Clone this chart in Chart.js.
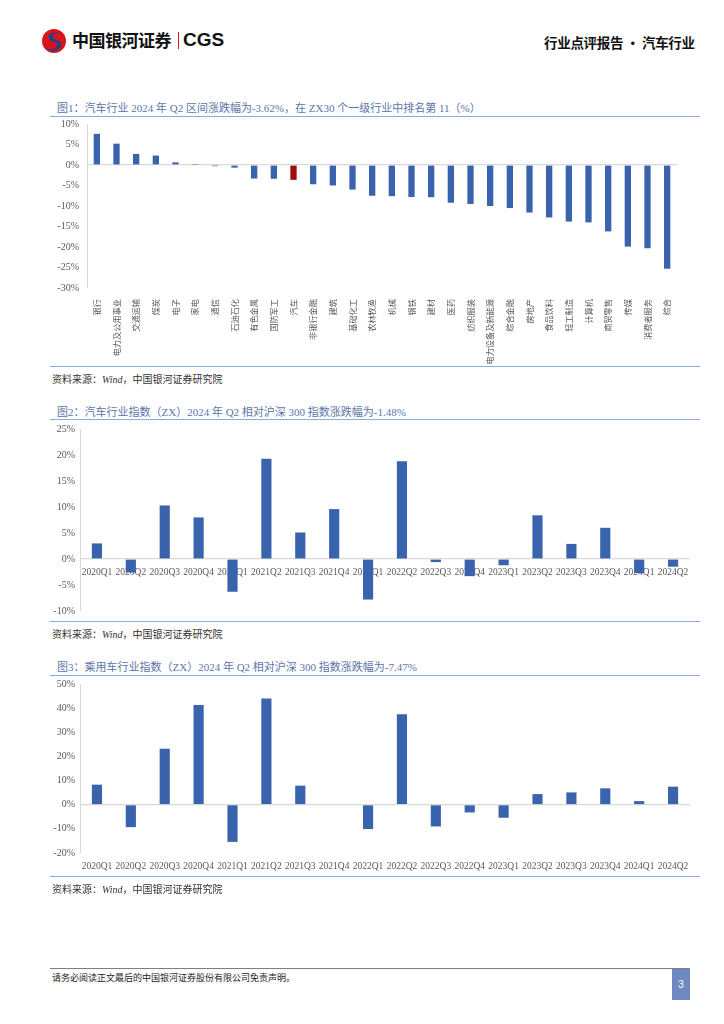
<!DOCTYPE html>
<html><head><meta charset="utf-8">
<script src="https://cdn.jsdelivr.net/npm/chart.js@4"></script>
<style>
html,body{margin:0;padding:0;background:#fff;}
body{width:724px;height:1024px;position:relative;overflow:hidden;font-family:"Liberation Serif","Noto Sans CJK SC",serif;}
.abs{position:absolute;}
.title{left:57px;font-size:11px;color:#5b76a8;white-space:nowrap;}
.tline{left:50px;width:650px;height:0;border-top:1.5px solid #8eaadb;}
.src{left:52px;font-size:10px;color:#333;white-space:nowrap;}
canvas{position:absolute;}
</style></head>
<body>
<!-- header -->
<svg class="abs" style="left:41px;top:28px" width="26" height="26" viewBox="0 0 26 26">
  <circle cx="13" cy="13" r="12" fill="#d7141a"/>
  <path d="M19 5 C11 3,5 8,9 12 C12 15,18 13,16 18 C14 22,8 22,5 20 C9 25,19 23,20 17 C21 12,14 13,12 10 C10 7,15 5,19 5 Z" fill="#1a3f95"/>
</svg>
<div class="abs" style="left:72px;top:30px;font-family:'Noto Sans CJK SC';font-weight:700;font-size:17px;color:#111;letter-spacing:-0.5px;line-height:20px;">中国银河证券</div>
<div class="abs" style="left:178px;top:32px;width:1px;height:17px;background:#d7141a;"></div>
<div class="abs" style="left:183px;top:29px;font-family:'Liberation Sans';font-weight:700;font-size:19px;color:#111;line-height:22px;">CGS</div>
<div class="abs" style="left:544px;top:32px;font-family:'Noto Sans CJK SC';font-weight:700;font-size:13.5px;color:#111;white-space:nowrap;letter-spacing:-0.3px;">行业点评报告 · 汽车行业</div>

<!-- chart 1 -->
<div class="abs title" style="top:99px;">图1：汽车行业 2024 年 Q2 区间涨跌幅为-3.62%，在 ZX30 个一级行业中排名第 11（%）</div>
<div class="abs tline" style="top:116px;"></div>
<canvas id="c1" width="650" height="249" style="left:50px;top:116px;"></canvas>
<div class="abs tline" style="top:366px;"></div>
<div class="abs src" style="top:371px;">资料来源：<i>Wind</i>，中国银河证券研究院</div>

<!-- chart 2 -->
<div class="abs title" style="top:403px;">图2：汽车行业指数（ZX）2024 年 Q2 相对沪深 300 指数涨跌幅为-1.48%</div>
<div class="abs tline" style="top:419px;"></div>
<canvas id="c2" width="650" height="200" style="left:50px;top:421px;"></canvas>
<div class="abs tline" style="top:621px;"></div>
<div class="abs src" style="top:626px;">资料来源：<i>Wind</i>，中国银河证券研究院</div>

<!-- chart 3 -->
<div class="abs title" style="top:658px;">图3：乘用车行业指数（ZX）2024 年 Q2 相对沪深 300 指数涨跌幅为-7.47%</div>
<div class="abs tline" style="top:675px;"></div>
<canvas id="c3" width="650" height="200" style="left:50px;top:677px;"></canvas>
<div class="abs tline" style="top:876px;"></div>
<div class="abs src" style="top:881px;">资料来源：<i>Wind</i>，中国银河证券研究院</div>

<!-- footer -->
<div class="abs" style="left:50px;top:968px;width:640px;height:0;border-top:1.5px solid #7f7f7f;"></div>
<div class="abs" style="left:52px;top:971px;font-size:9px;color:#222;font-family:'Noto Sans CJK SC';white-space:nowrap;">请务必阅读正文最后的中国银河证券股份有限公司免责声明。</div>
<div class="abs" style="left:672px;top:969px;width:18px;height:31px;background:#6f89c0;color:#fff;font-size:10px;text-align:center;line-height:31px;font-family:'Liberation Sans';">3</div>

<script>
// ---- data ----
const industries = ["银行","电力及公用事业","交通运输","煤炭","电子","家电","通信","石油石化","有色金属","国防军工","汽车","非银行金融","建筑","基础化工","农林牧渔","机械","钢铁","建材","医药","纺织服装","电力设备及新能源","综合金融","房地产","食品饮料","轻工制造","计算机","商贸零售","传媒","消费者服务","综合"];
const industryReturns = [7.6,5.2,2.7,2.3,0.65,0.05,-0.3,-0.65,-3.3,-3.35,-3.62,-4.7,-5.0,-6.0,-7.5,-7.6,-7.8,-7.85,-9.2,-9.5,-10.0,-10.5,-11.6,-12.8,-13.8,-14.0,-16.2,-19.9,-20.3,-25.3];
const highlightIndustry = "汽车";
const quarters = ["2020Q1","2020Q2","2020Q3","2020Q4","2021Q1","2021Q2","2021Q3","2021Q4","2022Q1","2022Q2","2022Q3","2022Q4","2023Q1","2023Q2","2023Q3","2023Q4","2024Q1","2024Q2"];
const autoRelative = [3.0,-2.6,10.3,8.0,-6.3,19.3,5.1,9.6,-7.8,18.8,-0.6,-3.3,-1.2,8.4,2.9,6.0,-2.7,-1.48];
const passengerRelative = [8.3,-9.3,23.2,41.3,-15.4,44.0,7.9,0,-10.1,37.5,-9.0,-3.2,-5.4,4.4,5.1,6.8,1.5,7.47];
const ticks1 = {min:-30,max:10,step:5};
const ticks2 = {min:-10,max:25,step:5};
const ticks3 = {min:-20,max:50,step:10};

// ---- styles ----
const BLUE = "#3a63ae", RED = "#a10e0e", GRID = "#d9d9d9", TXT = "#595959";
const numFont = {family:"'Liberation Serif','Noto Sans CJK SC',serif", size:10};
const pct = v => v + "%";
const noPad = s => { s.paddingTop = 0; s.paddingBottom = 0; s.paddingLeft = 0; s.paddingRight = 0; };

function yScale(t, width, pad){
  return {
    min:t.min, max:t.max,
    ticks:{stepSize:t.step, callback:pct, color:TXT, font:numFont, padding:pad},
    grid:{color:c => c.tick && c.tick.value === 0 ? GRID : "transparent", drawTicks:false, lineWidth:1.2},
    border:{display:true, color:GRID},
    afterFit: s => { s.width = width; noPad(s); }
  };
}
const common = {
  responsive:false, animation:false,
  plugins:{legend:{display:false}, tooltip:{enabled:false}}
};

// chart 1
new Chart(document.getElementById("c1"), {
  type:"bar",
  data:{labels:industries, datasets:[{
    data:industryReturns,
    backgroundColor:industries.map(n => n === highlightIndustry ? RED : BLUE),
    barPercentage:0.32, categoryPercentage:1
  }]},
  options:Object.assign({}, common, {
    layout:{padding:{top:8, right:23, left:0, bottom:0}},
    scales:{
      x:{
        grid:{display:false}, border:{display:false},
        ticks:{minRotation:90, maxRotation:90, autoSkip:false, color:TXT, padding:3,
               font:{family:"'Noto Sans CJK SC'", size:8.2}},
        afterFit: s => { s.height = 77; noPad(s); }
      },
      y:yScale(ticks1, 37, 8)
    }
  })
});

// chart 2
new Chart(document.getElementById("c2"), {
  type:"bar",
  data:{labels:quarters, datasets:[{data:autoRelative, backgroundColor:BLUE, barPercentage:0.3, categoryPercentage:1}]},
  options:Object.assign({}, common, {
    layout:{padding:{top:8, right:10, left:0, bottom:10}},
    scales:{
      x:{
        position:{y:0},
        grid:{display:false}, border:{display:false},
        ticks:{maxRotation:0, autoSkip:false, color:TXT, padding:0, font:{family:"'Liberation Serif',serif", size:9.5}},
        afterFit: s => { noPad(s); }
      },
      y:yScale(ticks2, 30, 5)
    }
  })
});

// chart 3
new Chart(document.getElementById("c3"), {
  type:"bar",
  data:{labels:quarters, datasets:[{data:passengerRelative, backgroundColor:BLUE, barPercentage:0.3, categoryPercentage:1}]},
  options:Object.assign({}, common, {
    layout:{padding:{top:7, right:10, left:0, bottom:0}},
    scales:{
      x:{
        grid:{display:false}, border:{display:false},
        ticks:{maxRotation:0, autoSkip:false, color:TXT, padding:0, font:{family:"'Liberation Serif',serif", size:9.5}},
        afterFit: s => { s.height = 24; noPad(s); }
      },
      y:yScale(ticks3, 30, 5)
    }
  })
});
</script>
</body></html>
